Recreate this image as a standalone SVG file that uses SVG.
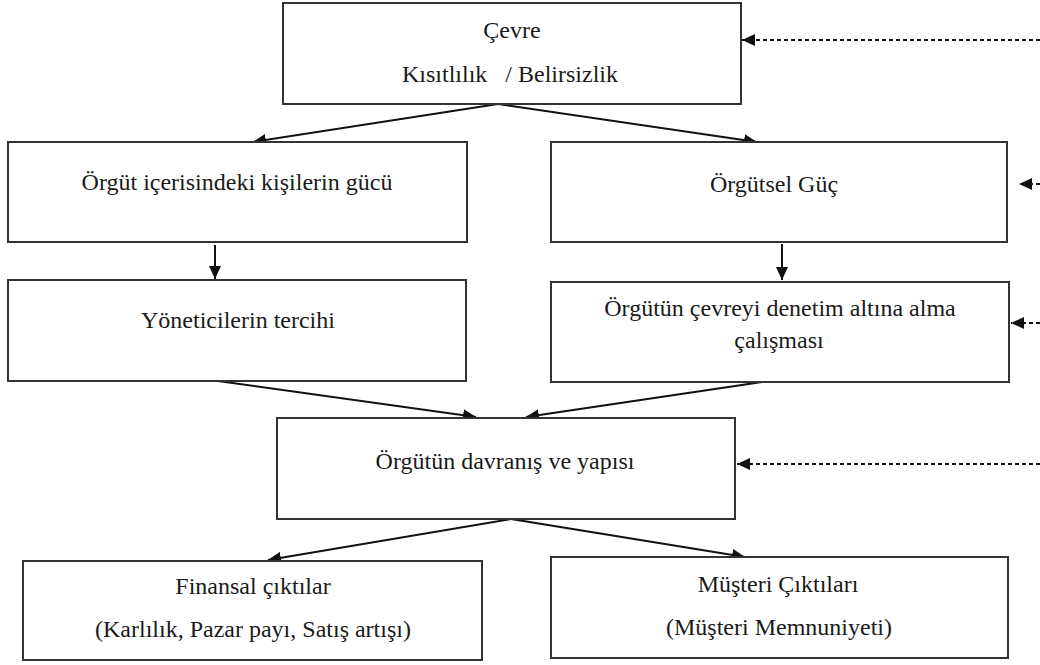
<svg xmlns="http://www.w3.org/2000/svg" width="1040" height="665" viewBox="0 0 1040 665">
<style>
.box{fill:#fff;stroke:#333;stroke-width:2}
.t{font-family:"Liberation Serif","Times New Roman",serif;font-size:24px;fill:#1a1a1a;text-anchor:middle}
.c{stroke:#111;stroke-width:2;fill:none;marker-end:url(#ah)}
.d{stroke:#111;stroke-width:2;fill:none;stroke-dasharray:4 3;marker-end:url(#ah)}
</style>
<defs>
<marker id="ah" markerUnits="userSpaceOnUse" markerWidth="14" markerHeight="12" refX="13" refY="6" orient="auto">
<path d="M0,0 L13,6 L0,12 Z" fill="#111"/>
</marker>
</defs>
<rect width="1040" height="665" fill="#fff"/>
<g id="connectors">
<line class="c" x1="498" y1="104" x2="253" y2="142"/>
<line class="c" x1="498" y1="104" x2="757" y2="142"/>
<line class="c" x1="215" y1="245" x2="215" y2="279"/>
<line class="c" x1="782" y1="244" x2="782" y2="280"/>
<line class="c" x1="218" y1="381" x2="476" y2="417"/>
<line class="c" x1="762" y1="382" x2="526" y2="417"/>
<line class="c" x1="511" y1="519" x2="268" y2="560"/>
<line class="c" x1="511" y1="519" x2="745" y2="557"/>
<line class="d" x1="1040" y1="40" x2="742" y2="40"/>
<line class="d" x1="1040" y1="184" x2="1019" y2="184"/>
<line class="d" x1="1040" y1="323" x2="1011" y2="323"/>
<line class="d" x1="1040" y1="464" x2="737" y2="464"/>
</g>
<g id="cevre">
<rect class="box" x="283" y="3" width="458" height="101"/>
<text class="t" x="512" y="38">Çevre</text>
<text class="t" x="510" y="82" xml:space="preserve">Kısıtlılık   / Belirsizlik</text>
</g>
<g id="kisilerin-gucu">
<rect class="box" x="8" y="142" width="459" height="100"/>
<text class="t" x="237" y="190">Örgüt içerisindeki kişilerin gücü</text>
</g>
<g id="orgutsel-guc">
<rect class="box" x="551" y="142" width="456" height="100"/>
<text class="t" x="774" y="192">Örgütsel Güç</text>
</g>
<g id="yoneticilerin-tercihi">
<rect class="box" x="8" y="280" width="458" height="101"/>
<text class="t" x="238" y="328">Yöneticilerin tercihi</text>
</g>
<g id="cevreyi-denetim">
<rect class="box" x="551" y="282" width="458" height="100"/>
<text class="t" x="780" y="316">Örgütün çevreyi denetim altına alma</text>
<text class="t" x="779" y="348">çalışması</text>
</g>
<g id="davranis-yapisi">
<rect class="box" x="277" y="418" width="458" height="101"/>
<text class="t" x="505" y="469">Örgütün davranış ve yapısı</text>
</g>
<g id="finansal">
<rect class="box" x="23" y="561" width="459" height="99"/>
<text class="t" x="253" y="594">Finansal çıktılar</text>
<text class="t" x="253" y="637">(Karlılık, Pazar payı, Satış artışı)</text>
</g>
<g id="musteri">
<rect class="box" x="551" y="557" width="457" height="101"/>
<text class="t" x="778" y="592">Müşteri Çıktıları</text>
<text class="t" x="779" y="635">(Müşteri Memnuniyeti)</text>
</g>
</svg>
